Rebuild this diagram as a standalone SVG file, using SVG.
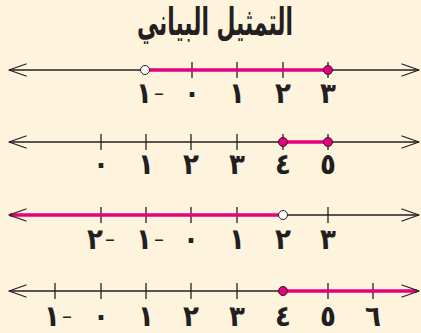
<svg xmlns="http://www.w3.org/2000/svg" width="421" height="333" viewBox="0 0 421 333">
<defs>
<style>
.axis{stroke:#231f20;stroke-width:1.3;fill:none}
.tick{stroke:#231f20;stroke-width:1.3}
.arrow{stroke:#231f20;stroke-width:1.3;fill:none;stroke-linecap:round;stroke-linejoin:round}
.ray{stroke:#e6007e;stroke-width:3.5;fill:none}
.dot{fill:#e6007e;stroke:#231f20;stroke-width:1}
.open{fill:#ffffff;stroke:#231f20;stroke-width:1}
.lbl{font-family:"DejaVu Sans Condensed","DejaVu Sans",sans-serif;font-weight:bold;font-size:29px;fill:#231f20;text-anchor:middle;direction:ltr;unicode-bidi:bidi-override}
.dash{font-size:22px;font-weight:normal}
.title{font-family:"DejaVu Sans",sans-serif;font-weight:bold;font-size:38px;fill:#231f20;text-anchor:middle}
</style>
</defs>
<rect width="421" height="333" fill="#fef3dc"/>
<g id="title"><text class="title" x="215" y="35" textLength="156" lengthAdjust="spacingAndGlyphs">التمثيل البياني</text></g>

<g id="connectors">
<line class="axis" x1="9" y1="70" x2="419" y2="70"/>
<polyline class="arrow" points="26,64 9,70 26,76"/>
<polyline class="arrow" points="402,64 419,70 402,76"/>
<line class="axis" x1="9" y1="142" x2="419" y2="142"/>
<polyline class="arrow" points="26,136 9,142 26,148"/>
<polyline class="arrow" points="402,136 419,142 402,148"/>
<line class="axis" x1="9" y1="215" x2="419" y2="215"/>
<polyline class="arrow" points="402,209 419,215 402,221"/>
<line class="axis" x1="9" y1="291" x2="419" y2="291"/>
<polyline class="arrow" points="26,285 9,291 26,297"/>
</g>

<g id="line1">
<line class="tick" x1="192" y1="62" x2="192" y2="78"/>
<line class="tick" x1="237" y1="62" x2="237" y2="78"/>
<line class="tick" x1="283" y1="62" x2="283" y2="78"/>
<line class="tick" x1="328" y1="62" x2="328" y2="78"/>
<line class="ray" x1="145" y1="70" x2="328" y2="70"/>
<circle class="open" cx="145" cy="70" r="4.5"/>
<circle class="dot" cx="328" cy="70" r="4.5"/>
<text class="lbl" x="150" y="103">١<tspan class="dash" dx="2" dy="-3">–</tspan></text>
<text class="lbl" x="192" y="103">٠</text>
<text class="lbl" x="237" y="103">١</text>
<text class="lbl" x="283" y="103">٢</text>
<text class="lbl" x="328" y="103">٣</text>
</g>

<g id="line2">
<line class="tick" x1="101" y1="134" x2="101" y2="150"/>
<line class="tick" x1="146" y1="134" x2="146" y2="150"/>
<line class="tick" x1="191" y1="134" x2="191" y2="150"/>
<line class="tick" x1="237" y1="134" x2="237" y2="150"/>
<line class="tick" x1="283" y1="134" x2="283" y2="150"/>
<line class="tick" x1="328" y1="134" x2="328" y2="150"/>
<line class="ray" x1="283" y1="142" x2="328" y2="142"/>
<circle class="dot" cx="283" cy="142" r="4.5"/>
<circle class="dot" cx="328" cy="142" r="4.5"/>
<text class="lbl" x="101" y="174">٠</text>
<text class="lbl" x="146" y="174">١</text>
<text class="lbl" x="191" y="174">٢</text>
<text class="lbl" x="237" y="174">٣</text>
<text class="lbl" x="283" y="174">٤</text>
<text class="lbl" x="328" y="174">٥</text>
</g>

<g id="line3">
<line class="tick" x1="101" y1="207" x2="101" y2="223"/>
<line class="tick" x1="146" y1="207" x2="146" y2="223"/>
<line class="tick" x1="191" y1="207" x2="191" y2="223"/>
<line class="tick" x1="237" y1="207" x2="237" y2="223"/>
<line class="tick" x1="328" y1="207" x2="328" y2="223"/>
<line class="ray" x1="10" y1="215" x2="283" y2="215"/>
<polyline class="arrow" points="26,209 9,215 26,221"/>
<circle class="open" cx="283" cy="215" r="4.5"/>
<text class="lbl" x="101" y="249">٢<tspan class="dash" dx="2" dy="-3">–</tspan></text>
<text class="lbl" x="150" y="249">١<tspan class="dash" dx="2" dy="-3">–</tspan></text>
<text class="lbl" x="191" y="249">٠</text>
<text class="lbl" x="237" y="249">١</text>
<text class="lbl" x="283" y="249">٢</text>
<text class="lbl" x="328" y="249">٣</text>
</g>

<g id="line4">
<line class="tick" x1="55" y1="283" x2="55" y2="299"/>
<line class="tick" x1="101" y1="283" x2="101" y2="299"/>
<line class="tick" x1="146" y1="283" x2="146" y2="299"/>
<line class="tick" x1="191" y1="283" x2="191" y2="299"/>
<line class="tick" x1="237" y1="283" x2="237" y2="299"/>
<line class="tick" x1="328" y1="283" x2="328" y2="299"/>
<line class="tick" x1="373" y1="283" x2="373" y2="299"/>
<line class="ray" x1="283" y1="291" x2="417" y2="291"/>
<polyline class="arrow" points="402,285 419,291 402,297"/>
<circle class="dot" cx="283" cy="291" r="4.5"/>
<text class="lbl" x="58" y="326">١<tspan class="dash" dx="2" dy="-3">–</tspan></text>
<text class="lbl" x="101" y="326">٠</text>
<text class="lbl" x="146" y="326">١</text>
<text class="lbl" x="191" y="326">٢</text>
<text class="lbl" x="237" y="326">٣</text>
<text class="lbl" x="283" y="326">٤</text>
<text class="lbl" x="328" y="326">٥</text>
<text class="lbl" x="373" y="326">٦</text>
</g>
</svg>
